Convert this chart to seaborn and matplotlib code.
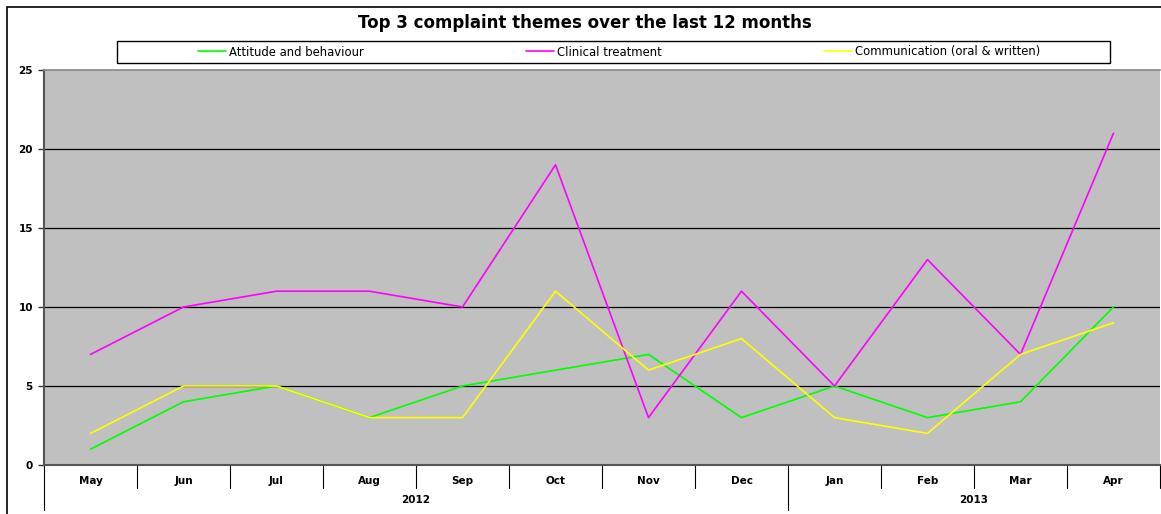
import matplotlib
matplotlib.use("Agg")
import matplotlib.pyplot as plt
import matplotlib.transforms as mtransforms
from matplotlib.patches import Rectangle
from matplotlib.lines import Line2D
import seaborn as sns
import pandas as pd

months = ["May", "Jun", "Jul", "Aug", "Sep", "Oct", "Nov", "Dec", "Jan", "Feb", "Mar", "Apr"]
years = ["2012", "2013"]
year_spans = [(0, 8), (8, 12)]  # category index ranges per year
attitude = [1, 4, 5, 3, 5, 6, 7, 3, 5, 3, 4, 10]
clinical = [7, 10, 11, 11, 10, 19, 3, 11, 5, 13, 7, 21]
communication = [2, 5, 5, 3, 3, 11, 6, 8, 3, 2, 7, 9]
series_names = ["Attitude and behaviour", "Clinical treatment", "Communication (oral & written)"]
colors = ["#00FF00", "#FF00FF", "#FFFF00"]

rows = []
for name, vals in zip(series_names, [attitude, clinical, communication]):
    for i, v in enumerate(vals):
        rows.append({"pos": i, "month": months[i], "value": v, "series": name})
df = pd.DataFrame(rows)

sns.set_theme(style="white")
plt.rcParams["font.family"] = ["DejaVu Sans"]
plt.rcParams["text.color"] = "black"

W, H = 1161, 514
fig = plt.figure(figsize=(W / 100, H / 100), dpi=100)
fig.patch.set_facecolor("white")

L, R, T, B = 44, 1160, 70, 465
ax = fig.add_axes([L / W, 1 - B / H, (R - L) / W, (B - T) / H])
ax.set_facecolor("#C0C0C0")

sns.lineplot(data=df, x="pos", y="value", hue="series", palette=colors,
             hue_order=series_names, linewidth=1.2, ax=ax, legend=False)

ax.set_xlim(-0.5, 11.5)
ax.set_ylim(0, 25)
ax.set_yticks([0, 5, 10, 15, 20, 25])
ax.set_yticklabels(["0", "5", "10", "15", "20", "25"], fontsize=7.5, fontweight="bold",
                   color="black")
ax.tick_params(axis="y", direction="out", length=4, width=1, color="#333333", pad=4, left=True)
for y in [5, 10, 15, 20]:
    ax.axhline(y, color="black", linewidth=0.9, zorder=1)
ax.set_xticks([])
ax.set_xlabel("")
ax.set_ylabel("")
for s in ["left", "bottom"]:
    ax.spines[s].set_color("#555555")
    ax.spines[s].set_linewidth(1.5)
ax.spines["top"].set_color("#888888")
ax.spines["top"].set_linewidth(1.2)
ax.spines["right"].set_visible(False)

trans = mtransforms.blended_transform_factory(ax.transData, fig.transFigure)
y0 = 1 - B / H
# month labels and separators
for i, m in enumerate(months):
    ax.text(i, 1 - 481 / H, m, transform=trans, ha="center", va="center",
            fontsize=7.5, fontweight="bold", color="black")
for b in range(0, 13):
    if b in (0, 8):
        continue
    ax.plot([b - 0.5, b - 0.5], [y0, 1 - 488 / H], transform=trans, color="black",
            linewidth=0.8, clip_on=False)
# year labels and separators
for yr, (a, e) in zip(years, year_spans):
    ax.text((a + e - 1) / 2, 1 - 500 / H, yr, transform=trans, ha="center", va="center",
            fontsize=7.5, fontweight="bold", color="black")
for b in (0, 8):
    ax.plot([b - 0.5, b - 0.5], [y0, 1 - 510 / H], transform=trans, color="black",
            linewidth=0.8, clip_on=False)

# title
fig.text(585 / W, 1 - 23 / H, "Top 3 complaint themes over the last 12 months",
         ha="center", va="center", fontsize=12, fontweight="bold", color="black")

# outer frame
fig.patches.append(Rectangle((7 / W, -0.05), 1.2, 1.05 - 7 / H, transform=fig.transFigure,
                             fill=False, edgecolor="black", linewidth=1.2))
# legend box
fig.patches.append(Rectangle((117 / W, 1 - 63 / H), (1110 - 117) / W, 22 / H,
                             transform=fig.transFigure, fill=False, edgecolor="black",
                             linewidth=1.0))
handles = [Line2D([], [], color=c, linewidth=1.2) for c in colors]
leg = fig.legend(handles, series_names, loc="center", bbox_to_anchor=(619 / W, 1 - 52 / H),
                 ncol=3, frameon=False, fontsize=8.4, handlelength=2.4, handletextpad=0.25,
                 columnspacing=13.9, borderpad=0, borderaxespad=0)
for t in leg.get_texts():
    t.set_color("black")

fig.savefig("out.png", dpi=100)
